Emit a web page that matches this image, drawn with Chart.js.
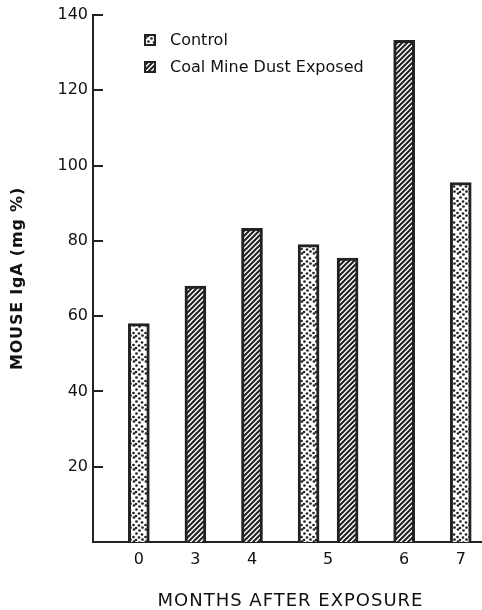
<!DOCTYPE html>
<html><head><meta charset="utf-8">
<script src="https://cdn.jsdelivr.net/npm/chart.js@4.4.1/dist/chart.umd.min.js"></script>
<style>html,body{margin:0;padding:0;background:#fff;}#wrap{width:482px;height:610px;}</style>
</head><body><div id="wrap"><canvas id="c" width="482" height="610"></canvas></div>
<script>
// ---- data ----
const months = ['0', '3', '4', '5', '6', '7'];
const controlValues = [58, null, null, 79, null, 95.5];
const exposedValues = [null, 68, 83.3, 75.4, 133.3, null];
const yTicks = [20, 40, 60, 80, 100, 120, 140];
const seriesLabels = ['Control', 'Coal Mine Dust Exposed'];
const xTitle = 'MONTHS AFTER EXPOSURE';
const yTitle = 'MOUSE IgA (mg %)';

// ---- layout: each category takes a slot per bar plus a gap ----
const GAP = 0.45;
const barsPer = months.map((m, i) => [controlValues[i], exposedValues[i]].filter(v => v != null).length);
const centers = [];
let acc = 0;
barsPer.forEach(n => { const w = GAP + n; centers.push(acc + w / 2); acc += w; });

const INK = '#222';

function dotPattern() {
  const c = document.createElement('canvas'); c.width = 12; c.height = 12;
  const g = c.getContext('2d');
  g.fillStyle = '#fff'; g.fillRect(0, 0, 12, 12);
  g.fillStyle = INK;
  [[2, 1.5], [7.5, 2.5], [4.5, 5.5], [10, 6.5], [1.5, 9], [7, 9.5], [10.5, 11.5], [4, 12]].forEach(([x, y]) => {
    [[0,0],[12,0],[-12,0],[0,12],[0,-12]].forEach(([dx,dy]) => {
      g.beginPath(); g.arc(x + dx, y + dy, 1.35, 0, Math.PI * 2); g.fill();
    });
  });
  return g.createPattern(c, 'repeat');
}
function hatchPattern() {
  const s = 5;
  const c = document.createElement('canvas'); c.width = s; c.height = s;
  const g = c.getContext('2d');
  g.fillStyle = '#fff'; g.fillRect(0, 0, s, s);
  g.strokeStyle = INK; g.lineWidth = 2.1;
  g.beginPath();
  g.moveTo(0, s); g.lineTo(s, 0);
  g.moveTo(-1, 1); g.lineTo(1, -1);
  g.moveTo(s - 1, s + 1); g.lineTo(s + 1, s - 1);
  g.stroke();
  return g.createPattern(c, 'repeat');
}
const fills = [dotPattern(), hatchPattern()];

const decor = {
  id: 'decor',
  afterDraw(chart) {
    const ctx = chart.ctx, a = chart.chartArea, y = chart.scales.y;
    ctx.save();
    // inward tick marks
    ctx.strokeStyle = INK; ctx.lineWidth = 2;
    yTicks.forEach(v => {
      const py = Math.round(y.getPixelForValue(v));
      ctx.beginPath(); ctx.moveTo(a.left, py); ctx.lineTo(a.left + 10, py); ctx.stroke();
    });
    // legend
    ctx.font = '16px "DejaVu Sans"';
    ctx.textBaseline = 'middle';
    ctx.textAlign = 'left';
    const rows = [40, 67];
    seriesLabels.forEach((lab, i) => {
      const ry = rows[i];
      ctx.fillStyle = INK;
      ctx.fillRect(144, ry - 6, 12, 12);
      ctx.fillStyle = fills[i];
      ctx.fillRect(146, ry - 4, 8, 8);
      ctx.fillStyle = '#111';
      ctx.fillText(lab, 170, ry + 1);
    });
    // axis titles
    ctx.fillStyle = '#111';
    ctx.textAlign = 'center';
    ctx.font = '18px "DejaVu Sans"';
    ctx.letterSpacing = '1px';
    ctx.fillText(xTitle, (a.left + a.right) / 2 + 3, 601);
    ctx.translate(18, (a.top + a.bottom) / 2);
    ctx.rotate(-Math.PI / 2);
    ctx.font = 'bold 16px "DejaVu Sans"';
    ctx.letterSpacing = '0.8px';
    ctx.fillText(yTitle, 0, 0);
    ctx.restore();
  }
};

const mkData = vals => months.map((m, i) => ({ x: centers[i], y: vals[i] }));

new Chart(document.getElementById('c'), {
  type: 'bar',
  data: {
    datasets: [
      { label: seriesLabels[0], data: mkData(controlValues), backgroundColor: fills[0] },
      { label: seriesLabels[1], data: mkData(exposedValues), backgroundColor: fills[1] }
    ]
  },
  options: {
    responsive: false, animation: false, devicePixelRatio: 1,
    layout: { padding: { top: 15, left: 0, right: 0, bottom: 0 } },
    datasets: { bar: { borderColor: INK, borderWidth: 3, barThickness: 39, maxBarThickness: 21, skipNull: true, grouped: true } },
    plugins: { legend: { display: false }, tooltip: { enabled: false } },
    scales: {
      x: {
        type: 'linear', offset: false, min: -0.45, max: 9.52,
        grid: { display: false, drawTicks: false },
        border: { display: true, color: INK, width: 2 },
        afterBuildTicks: s => { s.ticks = centers.map(v => ({ value: v })); },
        ticks: { callback: (v, i) => months[i], color: '#111', font: { family: 'DejaVu Sans', size: 16 }, padding: 8, maxRotation: 0, autoSkip: false },
        afterFit: s => { s.height = 68; }
      },
      y: {
        min: 0, max: 140,
        grid: { display: false, drawTicks: false },
        border: { display: true, color: INK, width: 2 },
        afterBuildTicks: s => { s.ticks = yTicks.map(v => ({ value: v })); },
        ticks: { color: '#111', font: { family: 'DejaVu Sans', size: 16 }, padding: 5 },
        afterFit: s => { s.width = 93; }
      }
    }
  },
  plugins: [decor]
});
</script></body></html>
